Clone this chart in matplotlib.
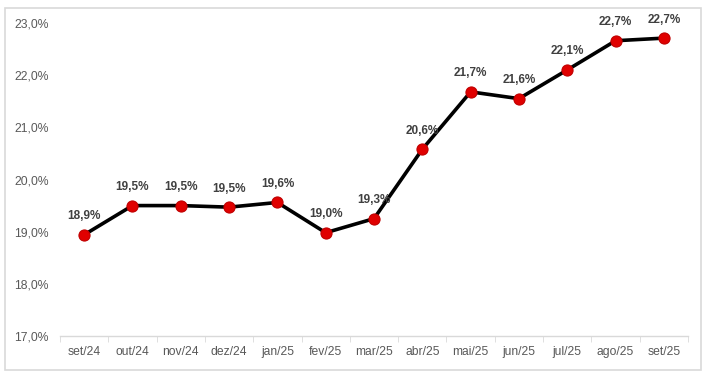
import matplotlib
matplotlib.use("Agg")
import matplotlib.pyplot as plt
from matplotlib.patches import Rectangle
from matplotlib.ticker import FuncFormatter, FixedLocator

months = ["set/24", "out/24", "nov/24", "dez/24", "jan/25", "fev/25", "mar/25",
          "abr/25", "mai/25", "jun/25", "jul/25", "ago/25", "set/25"]
values = [18.94, 19.50, 19.50, 19.47, 19.56, 18.98, 19.25,
          20.58, 21.68, 21.55, 22.10, 22.66, 22.71]
labels = ["18,9%", "19,5%", "19,5%", "19,5%", "19,6%", "19,0%", "19,3%",
          "20,6%", "21,7%", "21,6%", "22,1%", "22,7%", "22,7%"]

plt.rcParams['font.family'] = ['Liberation Sans', 'DejaVu Sans']

fig = plt.figure(figsize=(7.07, 3.77), dpi=100)
fig.patches.append(Rectangle((5/707, 7/377), 696/707, 362/377, transform=fig.transFigure,
                             fill=False, edgecolor="#d9d9d9", linewidth=1.2))
ax = fig.add_axes([60/707, 1 - 336/377, 628/707, (336 - 23)/377])

x = list(range(len(months)))
ax.plot(x, values, color="black", linewidth=2.6, marker="o", markersize=8,
        markerfacecolor="#e00000", markeredgecolor="#c00000", markeredgewidth=0.8, zorder=3)

for xi, v, lab in zip(x, values, labels):
    ax.annotate(lab, (xi, v), xytext=(0, 9), textcoords="offset points",
                ha="center", va="bottom", fontsize=8.5, fontweight="bold", color="#404040")

ax.set_xlim(-0.5, len(months) - 0.5)
ax.set_ylim(17.0, 23.0)
ax.set_yticks([17, 18, 19, 20, 21, 22, 23])
ax.yaxis.set_major_formatter(FuncFormatter(lambda v, p: f"{v:.1f}%".replace(".", ",")))
ax.set_xticks(x)
ax.set_xticklabels(months)
ax.xaxis.set_minor_locator(FixedLocator([i - 0.5 for i in range(len(months) + 1)]))
ax.tick_params(axis="x", which="major", length=0, pad=7, labelsize=8.7, labelcolor="#595959")
ax.tick_params(axis="x", which="minor", length=4, color="#d9d9d9", direction="out")
ax.tick_params(axis="y", length=0, pad=8, labelsize=8.7, labelcolor="#595959")

for s in ["top", "right", "left"]:
    ax.spines[s].set_visible(False)
ax.spines["bottom"].set_color("#d9d9d9")
ax.spines["bottom"].set_linewidth(1)

fig.savefig("out.png", dpi=100)
